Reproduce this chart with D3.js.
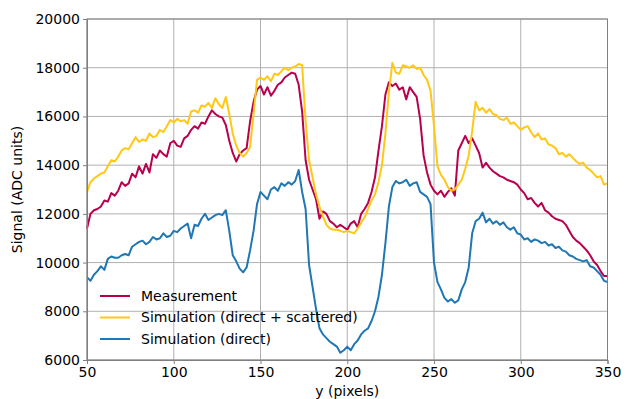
<!DOCTYPE html>
<meta charset="utf-8">
<head>
  <style>
    body { margin: 0; background: #fff; }
    svg { display: block; font-family: "DejaVu Sans", sans-serif; }
  </style>
</head>
<body>
<div id="chart"></div>
<script src="https://d3js.org/d3.v7.min.js"></script>
<script>

// y position in pixels, every 2 from 50 to 350
var positions = d3.range(50, 351, 2);

var measurement = [
  11400, 12000, 12150, 12200, 12300, 12550, 12500, 12850, 12750, 12950,
  13300, 13150, 13250, 13650, 13500, 13950, 13650, 14050, 13700, 14450,
  14300, 14600, 14450, 14350, 14900, 15000, 14800, 14750, 15100, 15200,
  15450, 15600, 15500, 15750, 15700, 16000, 16250, 16100, 16000, 15950,
  15650, 15000, 14500, 14150, 14450, 14600, 14700, 15800, 16600, 17100,
  17250, 16900, 17200, 16850, 17050, 17300, 17400, 17600, 17700, 17800,
  17750, 17300, 16200, 14200, 13400, 13000, 12600, 11800, 12100, 12000,
  11700, 11600, 11450, 11550, 11450, 11350, 11600, 11700, 11450, 12000,
  12200, 12450, 12900, 13500, 14600, 15600, 16900, 17400, 17250, 17350,
  17100, 17200, 16700, 17200, 17000, 16800, 15900, 14400, 13700, 13200,
  12950, 12800, 12950, 12700, 12900, 13050, 12750, 14600, 14900, 15200,
  14900, 15100, 14800, 14500, 13900, 14100, 13900, 13750, 13650, 13550,
  13500, 13400, 13350, 13300, 13200, 13000, 12850, 12600, 12650, 12450,
  12300, 12450, 12150, 12050, 11900, 11800, 11750, 11700, 11550, 11300,
  11050, 10900, 10800, 10650, 10500, 10300, 10050, 9900, 9650, 9450,
  9450
];

var simScattered = [
  12900, 13300, 13450, 13550, 13650, 13700, 13950, 14200, 14150, 14350,
  14600, 14700, 14650, 14900, 15150, 14950, 15050, 15000, 15300, 15150,
  15200, 15450, 15350, 15600, 15850, 15750, 15900, 15800, 15850, 15700,
  16200, 16250, 16150, 16450, 16400, 16550, 16350, 16750, 16500, 16350,
  16800, 16100, 15300, 14800, 14500, 14350, 14500, 14750, 16100, 17500,
  17600, 17500, 17650, 17450, 17750, 17700, 17850, 18000, 17900, 18000,
  18050, 18150, 18100, 15800, 14200, 13500, 12800, 12300, 11900, 11550,
  11400, 11350, 11350, 11300, 11250, 11300, 11250, 11200, 11400, 11650,
  11850, 12200, 12550, 12800, 13300, 14000, 15300, 17000, 18200, 17800,
  17750, 18100, 18050, 18000, 18100, 17950, 18000, 17700, 17500, 17050,
  15600, 13950, 13600, 13400, 13100, 12950, 13000, 13200, 13400, 13850,
  14400, 15400, 16600, 16250, 16350, 16150, 16300, 16100, 16050, 15900,
  15850, 15950, 15700, 15750, 15600, 15450, 15550, 15600, 15350, 15150,
  15300, 15050, 15100, 14850, 14800, 14700, 14450, 14500, 14350, 14450,
  14300, 14150, 14050, 14100, 13900, 13800, 13650, 13500, 13550, 13200,
  13250
];

var simDirect = [
  9400, 9250, 9500, 9650, 9850, 9700, 10150, 10250, 10200, 10200,
  10300, 10350, 10300, 10650, 10750, 10850, 10900, 10750, 10850, 11050,
  10950, 11000, 11200, 11050, 11100, 11300, 11250, 11400, 11500, 11600,
  11000, 11550, 11500, 11800, 12000, 11750, 11850, 11950, 12000, 11950,
  12150, 11300, 10300, 10050, 9750, 9600, 9800, 10500, 11300, 12400,
  12900, 12750, 12600, 13000, 13100, 12950, 13250, 13150, 13300, 13200,
  13350, 13800, 12900, 12200, 9900, 9000, 8100, 7300, 7050, 6900,
  6750, 6650, 6550, 6300, 6400, 6550, 6400, 6650, 6800, 7050,
  7200, 7300, 7600, 8000, 8600, 9500, 10800, 12300, 13100, 13350,
  13250, 13300, 13400, 13150, 13250, 13300, 12900, 12800, 12700, 12400,
  10000, 9200, 8900, 8550, 8400, 8500, 8350, 8450, 8900, 9200,
  9800, 11200, 11700, 11800, 12050, 11650, 11800, 11600, 11700, 11550,
  11650, 11450, 11350, 11450, 11200, 11150, 10950, 11000, 10850, 10950,
  10900, 10800, 10850, 10700, 10750, 10600, 10650, 10500, 10450, 10300,
  10250, 10150, 10100, 10050, 10100, 9850, 9800, 9650, 9500, 9250,
  9200
];

var seriesNames = ["Measurement", "Simulation (direct + scattered)", "Simulation (direct)"];
var seriesColors = ["#b8004e", "#ffc814", "#1f77b4"];
var xTicks = [50, 100, 150, 200, 250, 300, 350];
var yTicks = [6000, 8000, 10000, 12000, 14000, 16000, 18000, 20000];

var W = 628, H = 399;
var margin = {top: 19, right: 20.5, bottom: 39, left: 87},
    width = W - margin.left - margin.right,
    height = H - margin.top - margin.bottom;

var svg = d3.select("#chart")
  .append("svg")
    .attr("width", W)
    .attr("height", H)
  .append("g")
    .attr("transform", "translate(" + margin.left + "," + margin.top + ")");

var x = d3.scaleLinear().domain([50, 350]).range([0, width]);
var y = d3.scaleLinear().domain([6000, 20000]).range([height, 0]);

// grid
svg.append("g").selectAll("line")
  .data(xTicks)
  .enter().append("line")
    .attr("x1", function(d) { return x(d); })
    .attr("x2", function(d) { return x(d); })
    .attr("y1", 0).attr("y2", height)
    .attr("stroke", "#b0b0b0").attr("stroke-width", 1);
svg.append("g").selectAll("line")
  .data(yTicks)
  .enter().append("line")
    .attr("x1", 0).attr("x2", width)
    .attr("y1", function(d) { return y(d); })
    .attr("y2", function(d) { return y(d); })
    .attr("stroke", "#b0b0b0").attr("stroke-width", 1);

// lines
var line = d3.line()
  .x(function(d) { return x(d[0]); })
  .y(function(d) { return y(d[1]); });

[measurement, simScattered, simDirect].forEach(function(vals, i) {
  svg.append("path")
    .datum(positions.map(function(p, j) { return [p, vals[j]]; }))
    .attr("fill", "none")
    .attr("stroke", seriesColors[i])
    .attr("stroke-width", 2)
    .attr("stroke-linejoin", "round")
    .attr("d", line);
});

// axes
var xAxis = svg.append("g")
  .attr("transform", "translate(0," + height + ")")
  .call(d3.axisBottom(x).tickValues(xTicks).tickSize(4).tickPadding(3));
var yAxis = svg.append("g")
  .call(d3.axisLeft(y).tickValues(yTicks).tickSize(4).tickPadding(3).tickFormat(d3.format("d")));
[xAxis, yAxis].forEach(function(a) {
  a.selectAll("text").style("font-size", "14px").attr("fill", "#000").style("font-family", "DejaVu Sans");
  a.selectAll("line").attr("stroke", "#808080");
  a.select(".domain").attr("stroke", "#808080");
});

// frame
svg.append("rect")
  .attr("width", width).attr("height", height)
  .attr("fill", "none").attr("stroke", "#808080").attr("stroke-width", 1);

// labels
svg.append("text")
  .attr("x", width / 2).attr("y", height + 36)
  .attr("text-anchor", "middle")
  .style("font-size", "14px")
  .text("y (pixels)");
svg.append("text")
  .attr("transform", "translate(" + (-65) + "," + (height / 2) + ")rotate(-90)")
  .attr("text-anchor", "middle")
  .style("font-size", "14px")
  .text("Signal (ADC units)");

// legend
var legend = svg.append("g").attr("transform", "translate(13," + (296 - margin.top) + ")");
seriesNames.forEach(function(name, i) {
  legend.append("line")
    .attr("x1", 0).attr("x2", 30)
    .attr("y1", i * 21.5).attr("y2", i * 21.5)
    .attr("stroke", seriesColors[i]).attr("stroke-width", 2);
  legend.append("text")
    .attr("x", 41).attr("y", i * 21.5)
    .attr("dy", "0.35em")
    .style("font-size", "14px")
    .text(name);
});

</script>
</body>
